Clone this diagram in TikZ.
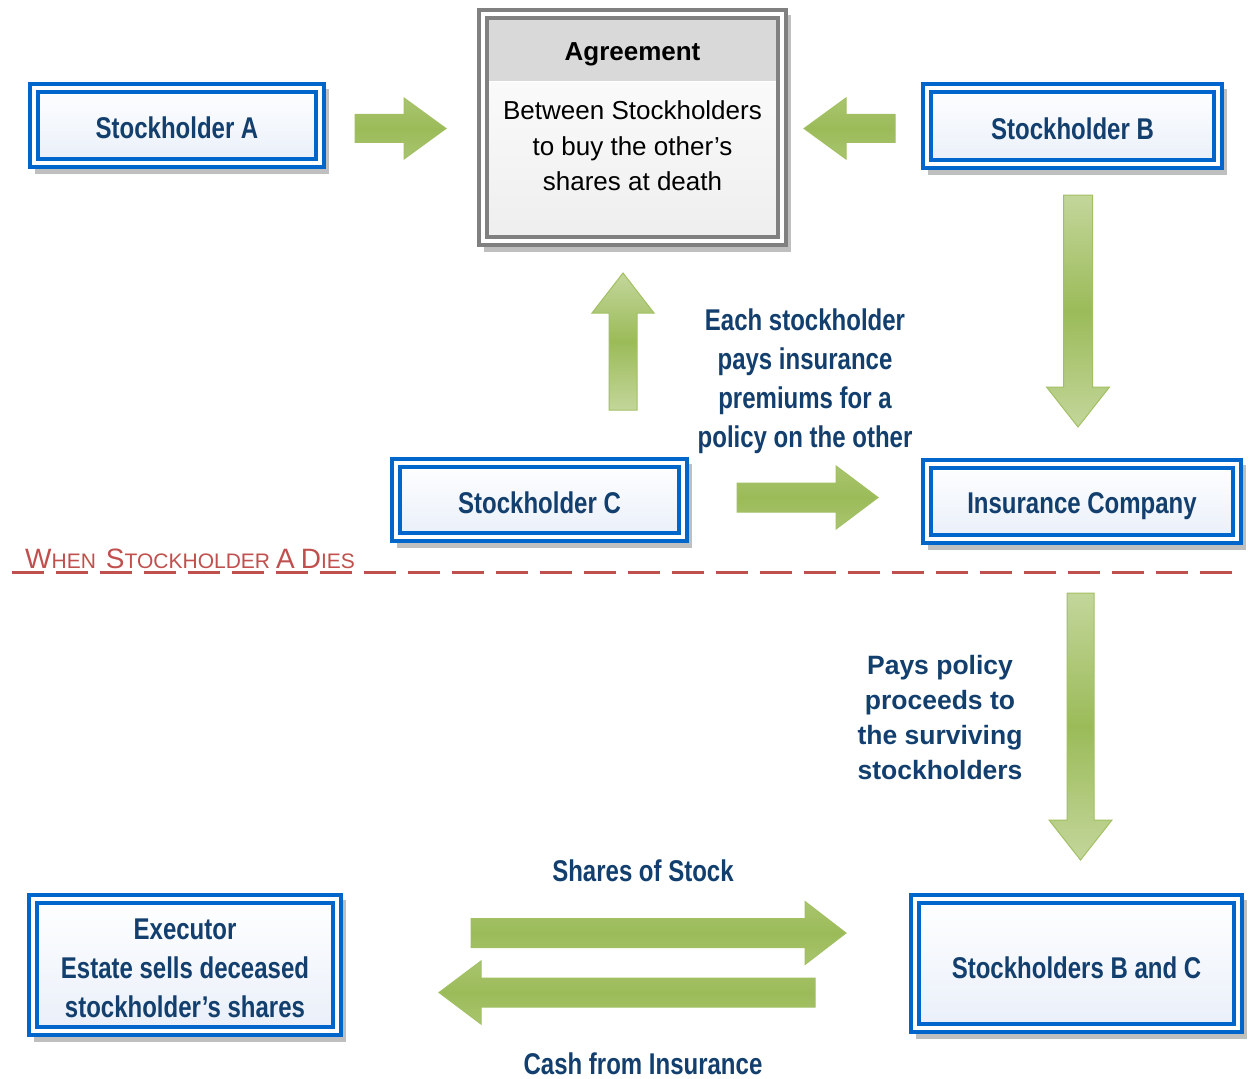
\documentclass[tikz,border=0pt]{standalone}
\usepackage{fontspec}
\setmainfont{Liberation Sans}
\newfontfamily\narrowfont[FakeStretch=0.8]{Liberation Sans}
\usetikzlibrary{backgrounds,calc}

\definecolor{boxblue}{HTML}{0066CC}
\definecolor{txtblue}{HTML}{123F6E}
\definecolor{boxbot}{HTML}{E9EFF9}
\definecolor{shadowgray}{HTML}{BFBFBF}
\definecolor{agrgray}{HTML}{808080}
\definecolor{headgray}{HTML}{D9D9D9}
\definecolor{bodybot}{HTML}{EEEEEE}
\definecolor{gdark}{HTML}{9BBB59}
\definecolor{glight}{HTML}{C3D69B}
\definecolor{gmid}{HTML}{A9C56E}
\definecolor{gedge}{HTML}{A2C062}
\definecolor{redc}{HTML}{C0504D}

% block arrow from a named tail point to a named tip point
% #1 style, #2 tail, #3 tip, #4 shaft half width, #5 head half width, #6 head length
\newcommand\blockarrow[6][]{%
  \path[garrow,#1] let \p1=(#2), \p2=(#3),
    \n1={veclen(\x2-\x1,\y2-\y1)},
    \n2={(\x2-\x1)/\n1}, \n3={(\y2-\y1)/\n1} in
    ({\x1-#4*\n3},{\y1+#4*\n2}) --
    ({\x2-#6*\n2-#4*\n3},{\y2-#6*\n3+#4*\n2}) --
    ({\x2-#6*\n2-#5*\n3},{\y2-#6*\n3+#5*\n2}) --
    (\p2) --
    ({\x2-#6*\n2+#5*\n3},{\y2-#6*\n3-#5*\n2}) --
    ({\x2-#6*\n2+#4*\n3},{\y2-#6*\n3-#4*\n2}) --
    ({\x1+#4*\n3},{\y1-#4*\n2}) -- cycle;}

% small-caps imitation for the section heading
\newcommand\capbig[1]{{\fontsize{28}{28}\selectfont #1}}
\newcommand\capsmall[1]{{\fontsize{21}{21}\selectfont #1}}

\tikzset{
  bluebox/.style={draw=boxblue, double=white, double distance=4pt,
    line width=4pt, top color=white, bottom color=boxbot, outer sep=0pt,
    inner sep=0pt, text=txtblue, align=center, textdrop=27pt,
    font=\narrowfont\bfseries\fontsize{30}{39}\selectfont},
  textdrop/.style={execute at begin node={\rule{0pt}{#1}}},
  agrbox/.style={draw=agrgray, double=white, double distance=3.5pt,
    line width=4pt, top color=white, bottom color=bodybot, outer sep=0pt,
    inner sep=0pt},
  garrow/.style={draw=gedge, line width=1pt, line join=miter},
  garrowh/.style={top color=gmid, bottom color=gmid, middle color=gdark},
  garrowv/.style={top color=glight, bottom color=glight, middle color=gdark},
  bluelabel/.style={text=txtblue, align=center, inner sep=0pt,
    font=\narrowfont\bfseries\fontsize{30}{39}\selectfont},
  widelabel/.style={text=txtblue, align=center, inner sep=0pt,
    font=\bfseries\fontsize{26.5}{35}\selectfont},
}

\begin{document}
\begin{tikzpicture}[x=1pt,y=-1pt]
\useasboundingbox (0,0) rectangle (1249,1078);

% ---- boxes ----
\node[bluebox, minimum width=286, minimum height=75] (sa) at (177,125.5) {Stockholder A};
\node[bluebox, minimum width=291, minimum height=76] (sb) at (1072.5,126) {Stockholder B};
\node[bluebox, minimum width=287, minimum height=74] (sc) at (539.5,500) {Stockholder C};
\node[bluebox, minimum width=310, minimum height=75] (ins) at (1082,501.5) {\rule{0pt}{31pt}Insurance Company};
\node[bluebox, minimum width=304, minimum height=132] (exe) at (185,965) {};
\node[bluelabel] (exetext) at (exe.center) [yshift=-3pt]
  {Executor\\Estate sells deceased\\stockholder’s shares};
\node[bluebox, minimum width=323, minimum height=129] (sbc) at (1076.5,963.5) {\rule{0pt}{30pt}Stockholders B and C};

% agreement box with grey header band
\node[agrbox, minimum width=299, minimum height=227] (agr) at (632.5,127.5) {};
\fill[headgray] (489,20) rectangle (776,81);
\draw[white, line width=1pt] (489,82) -- (776,82);
\node[font=\bfseries\fontsize{26}{26}\selectfont, inner sep=0pt] (agrh) at (632.5,54) {Agreement};
\node[font=\fontsize{26}{35.5}\selectfont, align=center, inner sep=0pt] (agrb) at (632.5,146)
  {Between Stockholders\\to buy the other’s\\shares at death};

% drop shadows
\begin{pgfonlayer}{background}
  \fill[white] (0,0) rectangle (1249,1078);
  \foreach \b in {sa,sb,sc,ins,exe,sbc,agr}
    \fill[shadowgray] ([shift={(1,1)}]\b.north west) rectangle ([shift={(9,11)}]\b.south east);
\end{pgfonlayer}

% ---- arrow end points ----
\coordinate (a1t) at (355,128.5);   \coordinate (a1h) at (446,128.5);
\coordinate (a2t) at (895,128.5);   \coordinate (a2h) at (804,128.5);
\coordinate (a3t) at (623,410);     \coordinate (a3h) at (623,273);
\coordinate (a4t) at (1078,195);    \coordinate (a4h) at (1078,427);
\coordinate (a5t) at (737,497.5);   \coordinate (a5h) at (878,497.5);
\coordinate (a6t) at (1080.5,593);  \coordinate (a6h) at (1080.5,860);
\coordinate (a7t) at (471,933);     \coordinate (a7h) at (846,933);
\coordinate (a8t) at (815,992.5);   \coordinate (a8h) at (439,992.5);

\blockarrow[garrowh]{a1t}{a1h}{14}{30.5}{42}
\blockarrow[garrowh]{a2t}{a2h}{14}{30.5}{42}
\blockarrow[garrowv]{a3t}{a3h}{14}{31}{40}
\blockarrow[garrowv]{a4t}{a4h}{14.5}{31.5}{40}
\blockarrow[garrowh]{a5t}{a5h}{14.5}{31.5}{42}
\blockarrow[garrowv]{a6t}{a6h}{13.5}{31.5}{40}
\blockarrow[garrowh]{a7t}{a7h}{14.5}{31.5}{41}
\blockarrow[garrowh]{a8t}{a8h}{14.5}{31.5}{42}

% ---- labels ----
\node[bluelabel] (lprem) at (805,381)
  {Each stockholder\\pays insurance\\premiums for a\\policy on the other};
\node[widelabel] (lpays) at (940,718)
  {Pays policy\\proceeds to\\the surviving\\stockholders};
\node[bluelabel] (lshares) at (643,871) {Shares of Stock};
\node[bluelabel] (lcash) at (643,1063.5) {Cash from Insurance};

% ---- separator ----
\coordinate (sepl) at (12,572.5);
\coordinate (sepr) at (1236,572.5);
\draw[redc, line width=3pt, dash pattern=on 32pt off 12pt] (sepl) -- (sepr);
\node[anchor=base west, text=redc, inner sep=0pt] (title) at (25,568)
  {\capbig{W}\capsmall{HEN}\hspace{10pt}\capbig{S}\capsmall{TOCKHOLDER}\hspace{6pt}\capbig{A}\hspace{6pt}\capbig{D}\capsmall{IES}};
\end{tikzpicture}
\end{document}
